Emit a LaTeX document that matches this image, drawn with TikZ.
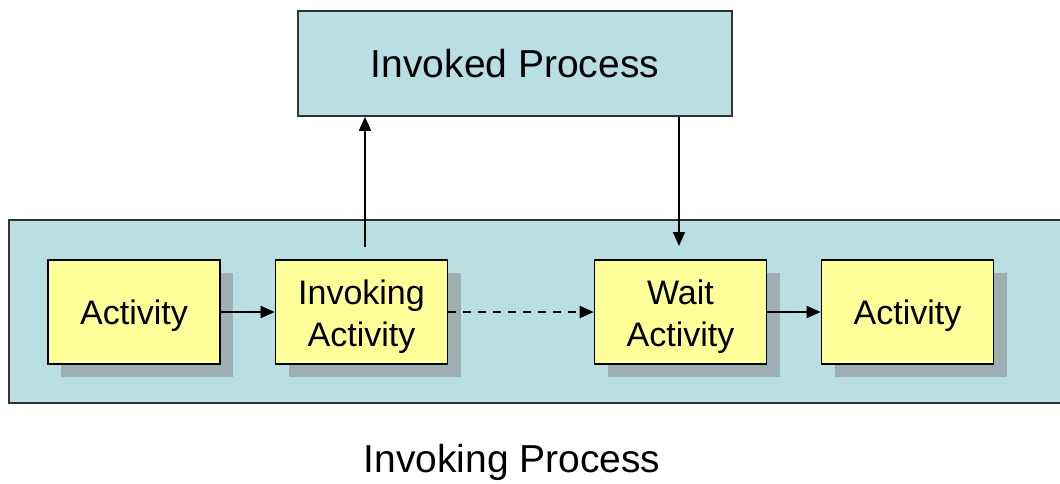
\documentclass[tikz,border=0pt]{standalone}
\usepackage{fontspec}
\setmainfont{Liberation Sans}
\usetikzlibrary{arrows.meta}
\definecolor{procblue}{HTML}{B9DFE3}
\definecolor{actyellow}{HTML}{FFFF99}
\definecolor{shadowgray}{HTML}{9DAFB2}
\definecolor{edgegray}{HTML}{333333}
\begin{document}
\begin{tikzpicture}[x=1pt,y=-1pt,
  procbox/.style={draw=edgegray,line width=1.6pt,fill=procblue},
  actbox/.style={draw=black,line width=1.6pt,fill=actyellow,minimum width=172pt,minimum height=104pt,
    align=center,inner sep=0pt},
  acttext/.style={font=\fontsize{34}{42}\selectfont,inner sep=0pt,align=center},
  actshadow/.style={fill=shadowgray,draw=none},
  flow/.style={-{Triangle[length=14pt,width=12pt]},line width=1.7pt},
  label/.style={font=\fontsize{39}{46}\selectfont,inner sep=0pt}]
\useasboundingbox (0,0) rectangle (1060,483);
% invoking process frame, running off the right edge
\fill[procblue] (9,220) rectangle (1064,403);
\draw[edgegray,line width=1.6pt] (1064,220) -- (9,220) -- (9,403) -- (1064,403);
% invoked process box
\node[procbox,minimum width=434pt,minimum height=105pt,inner sep=0pt] (invoked) at (515,63.5) {};
\node[label] at (515,64) {Invoked Process};
% activity shadows
\foreach \cx in {134,361.5,680.5,907.5}
  \fill[actshadow] (\cx-86+13,260+13) rectangle (\cx+86+13,364+13);
% activities
\node[actbox] (act1) at (134,312) {};
\node[actbox] (invoking) at (361.5,312) {};
\node[actbox] (wait) at (680.5,312) {};
\node[actbox] (act2) at (907.5,312) {};
\node[acttext] at (134,316) {Activity};
\node[acttext] at (361.5,317) {Invoking\\Activity};
\node[acttext] at (680.5,317) {Wait\\Activity};
\node[acttext] at (907.5,316) {Activity};
% connectors
\coordinate (upstart) at (365,247);
\coordinate (downend) at (679,246);
\draw[flow] (upstart) -- (upstart |- invoked.south);
\draw[flow] (invoked.south -| downend) -- (downend);
\draw[flow] (act1) -- (invoking);
\draw[flow,dashed,dash pattern=on 8pt off 7pt] (invoking) -- (wait);
\draw[flow] (wait) -- (act2);
% caption
\node[label] (caption) at (512,462) {Invoking Process};
\end{tikzpicture}
\end{document}
